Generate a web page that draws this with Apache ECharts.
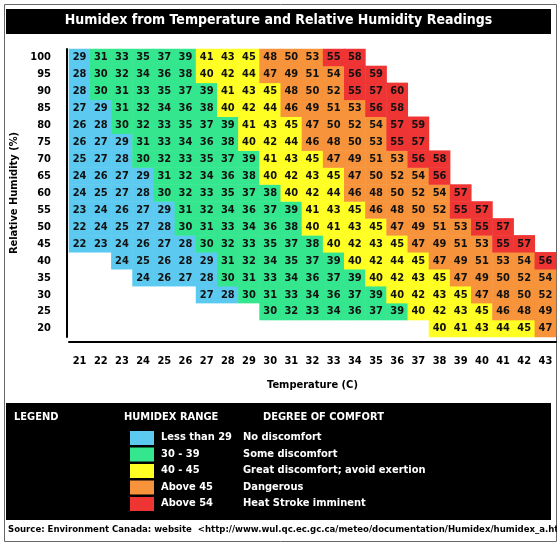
<!DOCTYPE html>
<html>
<head>
<meta charset="utf-8">
<script src="https://cdn.jsdelivr.net/npm/echarts@6/dist/echarts.min.js"></script>
<style>
  html, body { margin: 0; padding: 0; background: #fff; }
  #chart { width: 557px; height: 542px; }
</style>
</head>
<body>
<div id="chart"></div>
<script>
// temperatures (C) and humidity levels (%)
const temps = ['21','22','23','24','25','26','27','28','29','30','31','32','33','34','35','36','37','38','39','40','41','42','43']
const humidity = ['20','25','30','35','40','45','50','55','60','65','70','75','80','85','90','95','100']

// each row: first temperature that has a value, then the humidex values
const row100 = [21, 29,31,33,35,37,39,41,43,45,48,50,53,55,58]
const row95 = [21, 28,30,32,34,36,38,40,42,44,47,49,51,54,56,59]
const row90 = [21, 28,30,31,33,35,37,39,41,43,45,48,50,52,55,57,60]
const row85 = [21, 27,29,31,32,34,36,38,40,42,44,46,49,51,53,56,58]
const row80 = [21, 26,28,30,32,33,35,37,39,41,43,45,47,50,52,54,57,59]
const row75 = [21, 26,27,29,31,33,34,36,38,40,42,44,46,48,50,53,55,57]
const row70 = [21, 25,27,28,30,32,33,35,37,39,41,43,45,47,49,51,53,56,58]
const row65 = [21, 24,26,27,29,31,32,34,36,38,40,42,43,45,47,50,52,54,56]
const row60 = [21, 24,25,27,28,30,32,33,35,37,38,40,42,44,46,48,50,52,54,57]
const row55 = [21, 23,24,26,27,29,31,32,34,36,37,39,41,43,45,46,48,50,52,55,57]
const row50 = [21, 22,24,25,27,28,30,31,33,34,36,38,40,41,43,45,47,49,51,53,55,57]
const row45 = [21, 22,23,24,26,27,28,30,32,33,35,37,38,40,42,43,45,47,49,51,53,55,57]
const row40 = [23, 24,25,26,28,29,31,32,34,35,37,39,40,42,44,45,47,49,51,53,54,56]
const row35 = [24, 24,26,27,28,30,31,33,34,36,37,39,40,42,43,45,47,49,50,52,54]
const row30 = [27, 27,28,30,31,33,34,36,37,39,40,42,43,45,47,48,50,52]
const row25 = [30, 30,32,33,34,36,37,39,40,42,43,45,46,48,49]
const row20 = [38, 40,41,43,44,45,47]

const rows = [row20, row25, row30, row35, row40, row45, row50, row55, row60, row65, row70, row75, row80, row85, row90, row95, row100]

// legend rows
const rangeLabels = ['Less than 29', '30 - 39', '40 - 45', 'Above 45', 'Above 54']
const comfortLabels = ['No discomfort', 'Some discomfort', 'Great discomfort; avoid exertion', 'Dangerous', 'Heat Stroke imminent']
const colors = ['#5ccaf0', '#34e68e', '#ffff24', '#f7933a', '#ef3434']

const FONT = '"DejaVu Sans Condensed", "Liberation Sans Narrow", sans-serif'

const data = []
rows.forEach((r, yi) => {
  const start = r[0]
  r.slice(1).forEach((v, i) => {
    data.push([start - 21 + i, yi, v])
  })
})

const chart = echarts.init(document.getElementById('chart'))

const legendGraphics = []
colors.forEach((c, i) => {
  const y = 431 + i * 16.5
  legendGraphics.push(
    { type: 'rect', left: 130, top: y, shape: { width: 24, height: 14 }, style: { fill: c } },
    { type: 'text', left: 161, top: y + 1, style: { text: rangeLabels[i], fill: '#fff', font: 'bold 11px ' + FONT } },
    { type: 'text', left: 243, top: y + 1, style: { text: comfortLabels[i], fill: '#fff', font: 'bold 11px ' + FONT } }
  )
})

chart.setOption({
  animation: false,
  textStyle: { fontFamily: FONT },
  grid: { left: 69, right: 1, top: 49, bottom: 205 },
  xAxis: {
    type: 'category',
    data: temps,
    name: 'Temperature (C)',
    nameLocation: 'middle',
    nameGap: 38,
    nameTextStyle: { fontWeight: 'bold', fontSize: 11, color: '#000', fontFamily: FONT },
    offset: 5,
    axisLine: { lineStyle: { color: '#000', width: 2 } },
    axisTick: { alignWithLabel: true, length: 8, lineStyle: { color: '#888' } },
    axisLabel: { fontWeight: 'bold', fontSize: 11, color: '#000', margin: 14, fontFamily: FONT },
    splitArea: { show: false }
  },
  yAxis: {
    type: 'category',
    data: humidity,
    name: 'Relative Humidity (%)',
    nameLocation: 'middle',
    nameGap: 44,
    nameTextStyle: { fontWeight: 'bold', fontSize: 11, color: '#000', fontFamily: FONT },
    offset: 2,
    axisLine: { lineStyle: { color: '#000', width: 2 } },
    axisTick: { alignWithLabel: true, length: 7, lineStyle: { color: '#888' } },
    axisLabel: { fontWeight: 'bold', fontSize: 11, color: '#000', margin: 16, fontFamily: FONT }
  },
  visualMap: {
    show: false,
    type: 'piecewise',
    dimension: 2,
    pieces: [
      { max: 29.5, color: colors[0] },
      { min: 29.5, max: 39.5, color: colors[1] },
      { min: 39.5, max: 45.5, color: colors[2] },
      { min: 45.5, max: 54.5, color: colors[3] },
      { min: 54.5, color: colors[4] }
    ]
  },
  series: [{
    type: 'heatmap',
    data: data,
    label: {
      show: true,
      color: '#111',
      fontWeight: 'bold',
      fontSize: 11,
      fontFamily: FONT
    },
    itemStyle: { borderWidth: 0 }
  }],
  graphic: [
    { type: 'rect', left: 2, top: 2, shape: { width: 552, height: 537 }, style: { fill: 'none', stroke: '#666', lineWidth: 1 }, silent: true },
    { type: 'rect', left: 6, top: 9, shape: { width: 545, height: 25 }, style: { fill: '#000' } },
    { type: 'text', left: 'center', top: 13, style: { text: 'Humidex from Temperature and Relative Humidity Readings', fill: '#fff', font: 'bold 14px ' + FONT } },
    { type: 'rect', left: 6, top: 403, shape: { width: 545, height: 117 }, style: { fill: '#000' } },
    { type: 'text', left: 14, top: 412, style: { text: 'LEGEND', fill: '#fff', font: 'bold 11px ' + FONT } },
    { type: 'text', left: 124, top: 412, style: { text: 'HUMIDEX RANGE', fill: '#fff', font: 'bold 11px ' + FONT } },
    { type: 'text', left: 263, top: 412, style: { text: 'DEGREE OF COMFORT', fill: '#fff', font: 'bold 11px ' + FONT } },
    ...legendGraphics,
    { type: 'text', left: 8, top: 525, style: { text: 'Source: Environment Canada: website  <http://www.wul.qc.ec.gc.ca/meteo/documentation/Humidex/humidex_a.html>', fill: '#000', font: 'bold 9.5px ' + FONT } }
  ]
})
</script>
</body>
</html>
